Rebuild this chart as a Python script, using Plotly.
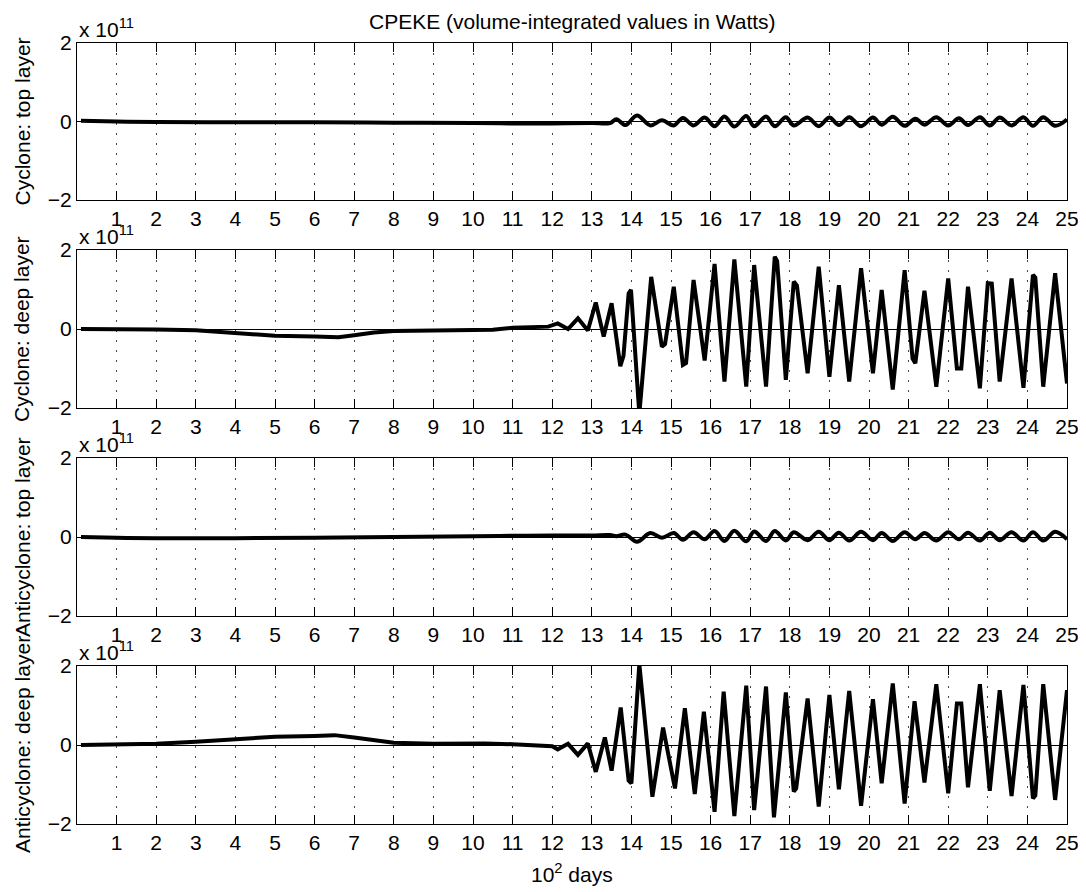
import plotly.graph_objects as go

# ---------------- data (values in units of 1e11 W, time in 10^2 days) ----------------
c_top_days = [0.1, 1, 2, 4, 6, 8, 10, 11, 12, 13, 13.46, 13.62, 13.85, 14.14, 14.48, 14.77, 15.07,
              15.3, 15.57, 15.85, 16.1, 16.35, 16.6, 16.9, 17.1, 17.4, 17.62, 17.9, 18.1, 18.45,
              18.73, 19.0, 19.24, 19.5, 19.8, 20.1, 20.32, 20.6, 20.9, 21.17, 21.4, 21.7, 22.0,
              22.27, 22.5, 22.8, 23.05, 23.3, 23.6, 23.9, 24.14, 24.4, 24.7, 25.0]
c_top_vals = [0.02, 0.0, -0.01, -0.02, -0.02, -0.03, -0.04, -0.05, -0.05, -0.04, -0.04, 0.06, -0.09,
              0.15, -0.10, 0.03, -0.10, 0.09, -0.10, 0.10, -0.12, 0.13, -0.13, 0.14, -0.12, 0.13,
              -0.12, 0.11, -0.10, 0.10, -0.12, 0.10, -0.09, 0.11, -0.12, 0.10, -0.08, 0.12, -0.11,
              0.07, -0.08, 0.11, -0.10, 0.08, -0.09, 0.11, -0.10, 0.10, -0.10, 0.11, -0.11, 0.11,
              -0.11, 0.05]

c_deep_days = [0.1, 1, 2, 3, 4, 5, 6, 6.6, 7, 7.5, 8, 9, 10, 10.5, 11, 11.5, 11.9, 12.14, 12.4,
               12.65, 12.9, 13.1, 13.3, 13.5, 13.72, 13.8, 13.93, 13.99, 14.2, 14.5, 14.77, 14.85,
               15.07, 15.3, 15.38, 15.57, 15.85, 16.1, 16.35, 16.6, 16.9, 17.1, 17.4, 17.62, 17.68,
               17.9, 18.1, 18.18, 18.45, 18.73, 19.0, 19.24, 19.5, 19.8, 20.1, 20.32, 20.6, 20.9,
               21.1, 21.17, 21.4, 21.7, 22.0, 22.22, 22.33, 22.5, 22.8, 23.0, 23.1, 23.3, 23.6,
               23.9, 24.14, 24.2, 24.4, 24.7, 25.0]
c_deep_vals = [0.0, 0.0, -0.01, -0.03, -0.11, -0.17, -0.19, -0.21, -0.16, -0.09, -0.05, -0.03,
               -0.03, -0.02, 0.03, 0.05, 0.06, 0.14, 0.0, 0.27, -0.04, 0.67, -0.19, 0.65, -0.94,
               -0.68, 0.90, 0.99, -2.15, 1.32, -0.45, -0.38, 1.07, -0.91, -0.86, 1.24, -0.80, 1.65,
               -1.33, 1.76, -1.46, 1.62, -1.46, 1.83, 1.72, -1.29, 1.20, 1.10, -1.12, 1.58, -1.21,
               1.11, -1.33, 1.54, -1.12, 0.99, -1.53, 1.49, -0.75, -0.87, 0.97, -1.46, 1.28, -1.0,
               -1.0, 1.07, -1.50, 1.16, 1.15, -1.33, 1.28, -1.49, 1.37, 1.30, -1.46, 1.41, -1.38]

a_top_days = c_top_days
a_top_vals = [0.0, -0.02, -0.03, -0.03, -0.02, 0.0, 0.02, 0.03, 0.04, 0.04, 0.05, 0.02, 0.06,
              -0.12, 0.10, -0.02, 0.10, -0.07, 0.12, -0.06, 0.15, -0.10, 0.16, -0.11, 0.14, -0.10,
              0.15, -0.09, 0.12, -0.08, 0.13, -0.08, 0.11, -0.09, 0.13, -0.08, 0.10, -0.10, 0.12,
              -0.06, 0.10, -0.09, 0.12, -0.06, 0.11, -0.09, 0.11, -0.08, 0.12, -0.09, 0.12, -0.09,
              0.13, -0.06]

a_deep_days = [0.1, 1, 2, 3, 4, 5, 6, 6.5, 7, 7.5, 8, 9, 10, 10.3, 11, 11.6, 12, 12.14, 12.4,
               12.65, 12.9, 13.1, 13.33, 13.5, 13.73, 13.93, 14.0, 14.2, 14.53, 14.8, 15.1, 15.35,
               15.6, 15.83, 16.1, 16.33, 16.6, 16.9, 17.1, 17.4, 17.6, 17.9, 18.1, 18.16, 18.45,
               18.73, 19.0, 19.24, 19.5, 19.8, 20.1, 20.32, 20.6, 20.9, 21.15, 21.4, 21.7, 22.0,
               22.22, 22.33, 22.5, 22.8, 23.05, 23.3, 23.6, 23.9, 24.14, 24.2, 24.4, 24.7, 25.0]
a_deep_vals = [0.0, 0.01, 0.03, 0.08, 0.14, 0.21, 0.23, 0.25, 0.19, 0.12, 0.06, 0.03, 0.04, 0.04,
               0.02, -0.02, -0.03, -0.11, 0.03, -0.25, 0.04, -0.68, 0.19, -0.65, 0.95, -0.90, -0.97,
               2.05, -1.31, 0.44, -1.10, 0.93, -1.24, 0.84, -1.69, 1.35, -1.80, 1.50, -1.65, 1.48,
               -1.83, 1.33, -1.18, -1.10, 1.18, -1.56, 1.27, -1.12, 1.37, -1.54, 1.16, -0.97, 1.56,
               -1.48, 1.11, -0.95, 1.54, -1.22, 1.05, 1.05, -1.07, 1.54, -1.16, 1.39, -1.29, 1.52,
               -1.35, -1.28, 1.54, -1.39, 1.39]

panel_labels = ["Cyclone: top layer", "Cyclone: deep layer",
                "Anticyclone: top layer", "Anticyclone: deep layer"]
x_ticks = list(range(1, 26))
y_ticks = [-2, 0, 2]
title_text = "CPEKE (volume-integrated values in Watts)"
x_label = "10<sup>2</sup> days"
exp_label = "x 10<sup>11</sup>"

series = [(c_top_days, c_top_vals, "spline"), (c_deep_days, c_deep_vals, "linear"),
          (a_top_days, a_top_vals, "spline"), (a_deep_days, a_deep_vals, "linear")]

# ---------------- layout ----------------
# the page body adds an 8px offset, so the figure is 8px smaller and shifted
OFF = 8
W, H = 1086 - OFF, 892 - OFF
ML, MR, MT, MB = 77 - OFF, 19, 43 - OFF, 68
PH = H - MT - MB
panel_px = [(43, 200), (250, 408), (458, 616), (666, 824)]  # (top, bottom) in page pixels
domains = [[(H - MB - (b - OFF)) / PH, (H - MB - (t - OFF)) / PH] for t, b in panel_px]
domains[0][1] = 1.0
domains[3][0] = 0.0

FONT = "Liberation Sans, Arial, Helvetica, sans-serif"
FS = 21

fig = go.Figure()
annotations = []
layout = {}
for i, (d, v, shape) in enumerate(series):
    n = i + 1
    xa = "x" if n == 1 else f"x{n}"
    ya = "y" if n == 1 else f"y{n}"
    fig.add_trace(go.Scatter(x=d, y=v, mode="lines", xaxis=xa, yaxis=ya,
                             line=dict(color="black", width=4, shape=shape),
                             showlegend=False, hoverinfo="skip"))
    xkey = "xaxis" if n == 1 else f"xaxis{n}"
    ykey = "yaxis" if n == 1 else f"yaxis{n}"
    layout[xkey] = dict(domain=[0, 1], anchor=ya, range=[0, 25], tickvals=x_ticks,
                        automargin=False,
                        ticks="inside", ticklen=9, tickwidth=1, tickcolor="black",
                        showline=True, linecolor="black", linewidth=1, mirror="ticks",
                        showgrid=True, gridcolor="#444", gridwidth=1, griddash="2px,8px",
                        zeroline=False, tickfont=dict(size=FS, color="black", family=FONT))
    layout[ykey] = dict(domain=domains[i], anchor=xa, range=[-2, 2], tickvals=y_ticks,
                        automargin=False,
                        ticks="inside", ticklen=9, tickwidth=1, tickcolor="black",
                        showline=True, linecolor="black", linewidth=1, mirror="ticks",
                        showgrid=False, zeroline=True, zerolinecolor="black", zerolinewidth=1,
                        tickfont=dict(size=FS, color="black", family=FONT))
    ymid = (domains[i][0] + domains[i][1]) / 2
    annotations.append(dict(text=panel_labels[i], xref="paper", yref="paper",
                            x=(22 - 77) / (W - ML - MR), y=ymid, xanchor="center",
                            yanchor="middle", textangle=-90, showarrow=False,
                            font=dict(size=FS, color="black", family=FONT)))
    annotations.append(dict(text=exp_label, xref="paper", yref="paper", x=0, y=domains[i][1],
                            xanchor="left", yanchor="bottom", yshift=0, showarrow=False,
                            font=dict(size=FS, color="black", family=FONT)))

annotations.append(dict(text=title_text, xref="paper", yref="paper", x=0.5, y=1,
                        xanchor="center", yanchor="bottom", yshift=8, showarrow=False,
                        font=dict(size=FS, color="black", family=FONT)))
annotations.append(dict(text=x_label, xref="paper", yref="paper", x=0.5, y=0,
                        xanchor="center", yanchor="top", yshift=-34, showarrow=False,
                        font=dict(size=FS, color="black", family=FONT)))

fig.update_layout(width=W, height=H, margin=dict(l=ML, r=MR, t=MT, b=MB, autoexpand=False),
                  paper_bgcolor="white", plot_bgcolor="white",
                  font=dict(family=FONT, size=FS, color="black"),
                  annotations=annotations, showlegend=False, **layout)

fig.write_html("out.html")
